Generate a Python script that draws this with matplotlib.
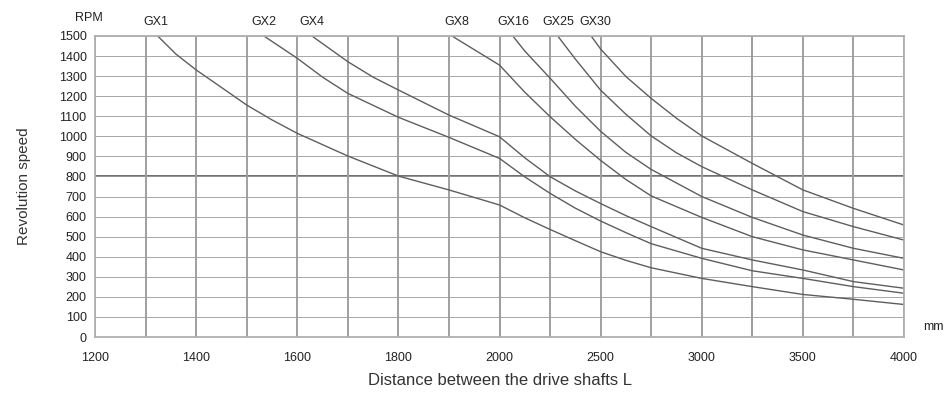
import numpy as np
import matplotlib
matplotlib.use("Agg")
import matplotlib.pyplot as plt

plt.rcParams['font.family'] = ['Liberation Sans Narrow', 'Liberation Sans', 'DejaVu Sans']

# distance L (mm) / revolution speed (RPM)
gx1_x = [1324, 1360, 1400, 1467, 1500, 1550, 1600, 1700, 1800, 1900, 2000, 2125, 2250, 2375, 2500, 2625, 2750, 3000, 3250, 3500, 3750, 4000]
gx1_y = [1500, 1410, 1331, 1214, 1156, 1082, 1015, 902, 802, 733, 658, 594, 536, 480, 425, 382, 345, 292, 251, 212, 188, 162]

gx2_x = [1534, 1600, 1650, 1700, 1800, 1900, 2000, 2125, 2250, 2375, 2500, 2625, 2750, 3000, 3250, 3500, 3750, 4000]
gx2_y = [1500, 1389, 1295, 1214, 1095, 995, 890, 798, 716, 642, 578, 520, 465, 392, 330, 292, 251, 218]

gx4_x = [1629, 1700, 1750, 1800, 1900, 2000, 2125, 2250, 2375, 2500, 2625, 2750, 3000, 3250, 3500, 3750, 4000]
gx4_y = [1500, 1372, 1295, 1231, 1106, 998, 893, 799, 728, 665, 605, 550, 442, 384, 334, 276, 243]

gx8_x = [1906, 1950, 2000, 2125, 2250, 2375, 2500, 2625, 2750, 3000, 3250, 3500, 3750, 4000]
gx8_y = [1500, 1432, 1355, 1220, 1098, 985, 880, 785, 703, 596, 500, 434, 384, 334]

gx16_x = [2066, 2125, 2250, 2375, 2500, 2625, 2750, 3000, 3250, 3500, 3750, 4000]
gx16_y = [1500, 1425, 1290, 1150, 1025, 920, 835, 700, 596, 508, 442, 392]

gx25_x = [2288, 2375, 2500, 2625, 2750, 2875, 3000, 3250, 3500, 3750, 4000]
gx25_y = [1500, 1385, 1230, 1110, 1002, 918, 849, 733, 625, 550, 483]

gx30_x = [2453, 2500, 2625, 2750, 2875, 3000, 3250, 3500, 3750, 4000]
gx30_y = [1500, 1435, 1298, 1189, 1090, 1002, 865, 733, 641, 558]

series_names = ["GX1", "GX2", "GX4", "GX8", "GX16", "GX25", "GX30"]
series_x = [gx1_x, gx2_x, gx4_x, gx8_x, gx16_x, gx25_x, gx30_x]
series_y = [gx1_y, gx2_y, gx4_y, gx8_y, gx16_y, gx25_y, gx30_y]
label_x = [1320, 1534, 1629, 1916, 2070, 2290, 2475]

x_major = [1200, 1400, 1600, 1800, 2000, 2500, 3000, 3500, 4000]
x_minor = [1300, 1500, 1700, 1900, 2250, 2750, 3250, 3750]
y_ticks = list(range(0, 1600, 100))


# the x axis is split: 100 mm per cell up to 2000, 250 mm per cell after
def fwd(x):
    x = np.asarray(x, dtype=float)
    return np.where(x <= 2000, (x - 1200) / 200.0, 4 + (x - 2000) / 500.0)


def inv(u):
    u = np.asarray(u, dtype=float)
    return np.where(u <= 4, 1200 + u * 200.0, 2000 + (u - 4) * 500.0)


fig = plt.figure(figsize=(9.44, 3.94), dpi=100)
ax = fig.add_axes([95 / 944, 1 - 337 / 394, 809 / 944, 301 / 394])
ax.set_xscale('function', functions=(fwd, inv))
ax.set_xlim(1200, 4000)
ax.set_ylim(0, 1500)

ax.set_xticks(x_major)
ax.set_xticks(x_minor, minor=True)
ax.set_yticks(y_ticks)
ax.tick_params(axis='both', which='both', length=0, labelsize=9, colors='#222222')
ax.tick_params(axis='x', pad=11)
ax.tick_params(axis='y', pad=6)

ax.grid(axis='y', which='major', color='#d2d2d2', lw=2.4, zorder=0)
ax.grid(axis='y', which='major', color='#9a9a9a', lw=0.6, zorder=0)
ax.grid(axis='x', which='both', color='#a0a0a0', lw=1.4, zorder=0)
ax.axhline(800, color='#555555', lw=1.2, zorder=1)
ax.axvline(2000, color='#555555', lw=1.4, zorder=1)
ax.axvline(3250, color='#555555', lw=1.4, zorder=1)

for s in ax.spines.values():
    s.set_color('#b0b0b0')
    s.set_linewidth(1.3)

for name, xs, ys, lx in zip(series_names, series_x, series_y, label_x):
    ax.plot(xs, ys, color='#5e5e5e', lw=1.0, zorder=2)
    ax.annotate(name, (lx, 1500), xytext=(0, 6), textcoords='offset points',
                ha='center', va='bottom', fontsize=9, color='#222222')

ax.set_ylabel("Revolution speed", fontsize=11, color='#333333', labelpad=20)
ax.set_xlabel("Distance between the drive shafts L", fontsize=12, color='#333333', labelpad=6)
fig.text(89 / 944, 1 - 18 / 394, "RPM", ha='center', va='center', fontsize=9, color='#222222')
fig.text(933 / 944, 1 - 327 / 394, "mm", ha='center', va='center', fontsize=9, color='#222222')

fig.savefig("out.png", dpi=100)
